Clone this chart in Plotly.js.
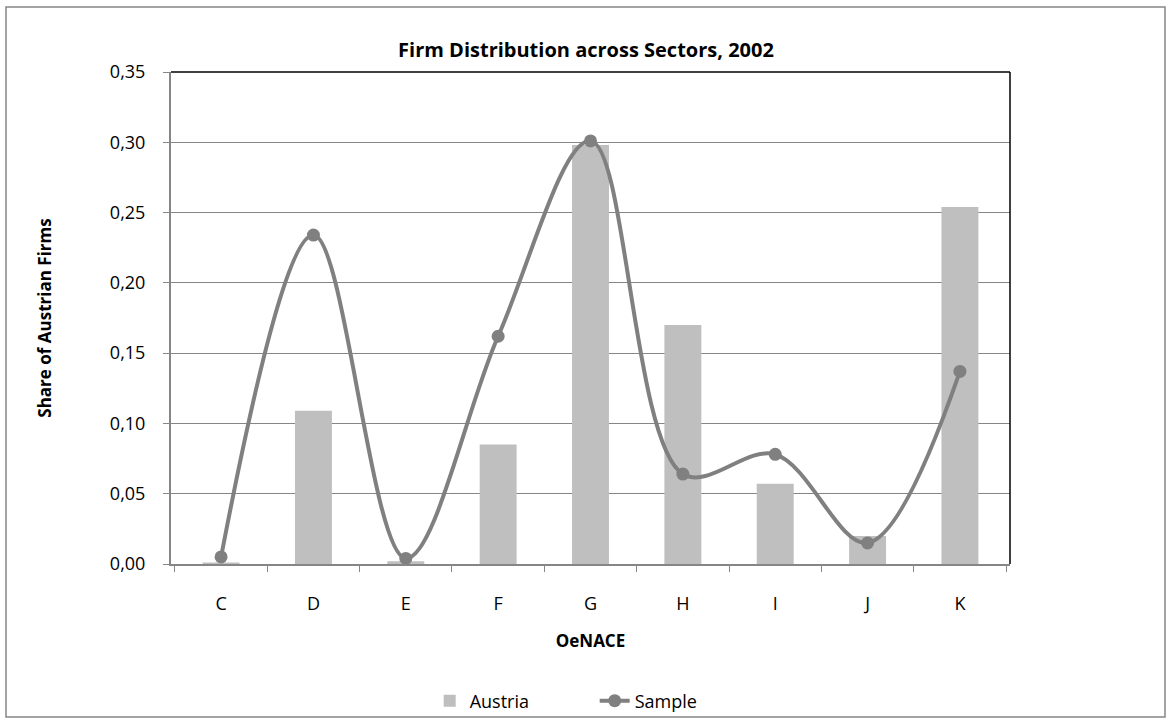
<!DOCTYPE html>
<html><head><meta charset="utf-8">
<script src="https://cdn.plot.ly/plotly-3.0.1.min.js"></script>
<style>html,body{margin:0;padding:0;background:#fff}#chart{width:1172px;height:724px}</style>
</head><body><div id="chart"></div>
<script>
const sectors = ["C","D","E","F","G","H","I","J","K"];
const austria = [0.001,0.109,0.002,0.085,0.298,0.170,0.057,0.020,0.254];
const sample  = [0.005,0.234,0.004,0.162,0.301,0.064,0.078,0.015,0.137];
const yTicks = [0,0.05,0.10,0.15,0.20,0.25,0.30,0.35];

const font = "Open Sans, Liberation Sans, sans-serif";
const L=171,R=1010,T=72,B=564;
const W=R-L,H=B-T;

const traces = [
 {type:'bar',name:'Austria',x:sectors,y:austria,marker:{color:'#BFBFBF'},width:0.4},
 {type:'scatter',mode:'lines+markers',name:'Sample',x:sectors,y:sample,
  line:{color:'#808080',width:4,shape:'spline',smoothing:1},
  marker:{color:'#808080',size:13}}
];
const layout = {
 width:1172,height:724,
 margin:{l:L,r:1172-R,t:T,b:724-B,autoexpand:false},
 paper_bgcolor:'#fff',plot_bgcolor:'#fff',
 separators:', ',
 font:{family:font,size:18,color:'#000'},
 title:{text:'<b>Firm Distribution across Sectors, 2002</b>',font:{size:20,family:font},x:0.5,xanchor:'center',y:0.931,yanchor:'middle'},
 xaxis:{title:{text:'<b>OeNACE</b>',font:{size:17},standoff:22},
  tickson:'boundaries',ticks:'outside',ticklen:6,tickcolor:'#868686',ticklabelstandoff:22,
  showline:true,linecolor:'#868686',linewidth:2,showgrid:false,zeroline:false,
  tickfont:{size:18}},
 yaxis:{title:{text:'<b>Share of Austrian Firms</b>',font:{size:17},standoff:54},
  range:[0,0.35],tickvals:yTicks,tickformat:'.2f',ticks:'outside',ticklen:6,tickcolor:'#868686',ticklabelstandoff:14,
  showline:true,linecolor:'#868686',linewidth:2,showgrid:true,gridcolor:'#868686',gridwidth:1,
  zeroline:false,tickfont:{size:18}},
 showlegend:true,
 legend:{orientation:'h',x:0.505,xanchor:'center',y:(B-701)/H,yanchor:'middle',font:{size:18},traceorder:'normal',bgcolor:'rgba(0,0,0,0)',entrywidth:120,entrywidthmode:'pixels'},
 shapes:[
  {type:'line',xref:'paper',yref:'paper',x0:0,x1:1,y0:1,y1:1,line:{color:'#000',width:1.5}},
  {type:'line',xref:'paper',yref:'paper',x0:1,x1:1,y0:0,y1:1,line:{color:'#000',width:1.5}},
  {type:'rect',xref:'paper',yref:'paper',x0:(6-L)/W,x1:(1165-L)/W,y0:(B-717)/H,y1:(B-7)/H,line:{color:'#868686',width:1.5},fillcolor:'rgba(0,0,0,0)'}
 ],
 bargap:0.6
};
Plotly.newPlot('chart',traces,layout,{displayModeBar:false,staticPlot:true});
</script></body></html>
